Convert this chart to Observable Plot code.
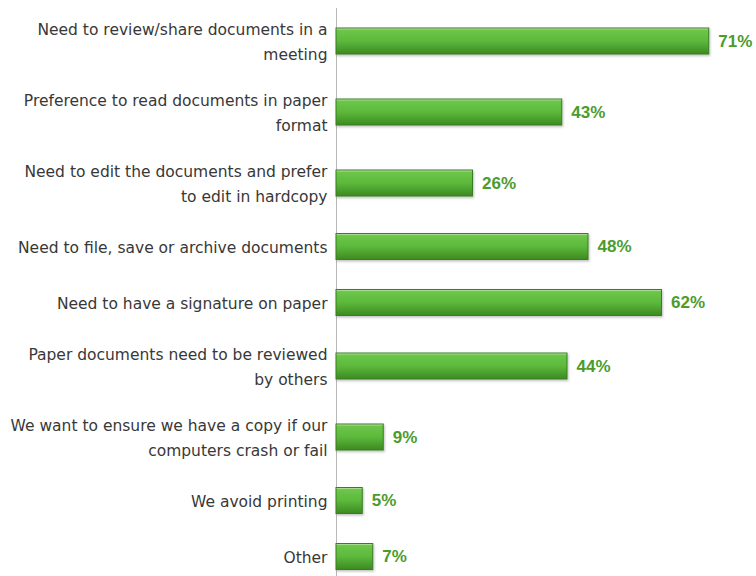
<!DOCTYPE html>
<html><head><meta charset="utf-8">
<script src="https://cdn.jsdelivr.net/npm/d3@7"></script>
<script src="https://cdn.jsdelivr.net/npm/@observablehq/plot@0.6"></script>
<style>body{margin:0;background:#fff}</style>
</head><body><div id="chart"></div>
<script>
const categories = [
  "Need to review/share documents in a\nmeeting",
  "Preference to read documents in paper\nformat",
  "Need to edit the documents and prefer\nto edit in hardcopy",
  "Need to file, save or archive documents",
  "Need to have a signature on paper",
  "Paper documents need to be reviewed\nby others",
  "We want to ensure we have a copy if our\ncomputers crash or fail",
  "We avoid printing",
  "Other"
];
const values = [71, 43, 26, 48, 62, 44, 9, 5, 7];
const valueLabels = ["71%", "43%", "26%", "48%", "62%", "44%", "9%", "5%", "7%"];

// Row layout: rows whose label wraps to two lines get a taller slot
const lineCounts = categories.map(c => c.split("\n").length);
const slot = n => 56 + 15 * (n - 1);
let acc = 0;
const data = categories.map((c, i) => {
  const h = slot(lineCounts[i]);
  const center = acc + h / 2;
  acc += h;
  return {category: c, value: values[i], label: valueLabels[i], center};
});
const barHalf = 13;

const defs = () => {
  const d = d3.create("svg:defs");
  const g = d.append("linearGradient").attr("id", "barGrad")
    .attr("x1", 0).attr("y1", 0).attr("x2", 0).attr("y2", 1);
  g.append("stop").attr("offset", "0%").attr("stop-color", "#d6f0c6");
  g.append("stop").attr("offset", "8%").attr("stop-color", "#6cc64a");
  g.append("stop").attr("offset", "50%").attr("stop-color", "#5cb93b");
  g.append("stop").attr("offset", "100%").attr("stop-color", "#3c8a22");
  const f = d.append("filter").attr("id", "barShadow")
    .attr("x", "-5%").attr("y", "-20%").attr("width", "115%").attr("height", "160%");
  f.append("feDropShadow").attr("dx", 1).attr("dy", 1.5).attr("stdDeviation", 1)
    .attr("flood-color", "#000").attr("flood-opacity", 0.25);
  return d.node();
};

const chart = Plot.plot({
  width: 756,
  height: 576,
  marginLeft: 336,
  marginRight: 0,
  marginTop: 0,
  marginBottom: 0,
  style: {fontFamily: "'DejaVu Sans', sans-serif", background: "#fff"},
  x: {domain: [0, 80], axis: null},
  y: {type: "linear", domain: [-5.5, 570.5], range: [0, 576], axis: null},
  marks: [
    defs,
    Plot.ruleX([0], {y1: 2.5, y2: 570.5, stroke: "#b8b8b8", strokeWidth: 1}),
    Plot.rect(data, {
      x1: 0, x2: "value",
      y1: d => d.center - barHalf, y2: d => d.center + barHalf,
      fill: "url(#barGrad)", stroke: "#3a7d22", strokeWidth: 1
    }),
    Plot.text(data, {
      x: "value", y: "center", text: "label", dx: 9, textAnchor: "start",
      fill: "#4b9c2c", fontWeight: "bold", fontSize: 17,
      fontFamily: "'Liberation Sans', Arial, sans-serif"
    }),
    Plot.text(data, {
      x: 0, y: "center", text: "category", dx: -9, dy: -2, textAnchor: "end",
      fill: "#383838", fontSize: 15.5, lineHeight: 1.6
    })
  ]
});
d3.select(chart).selectAll("rect").filter(function() {
  return this.getAttribute("fill") === "url(#barGrad)" || (this.parentNode && this.parentNode.getAttribute("fill") === "url(#barGrad)");
}).attr("filter", "url(#barShadow)");
document.getElementById("chart").appendChild(chart);
</script>
</body></html>
